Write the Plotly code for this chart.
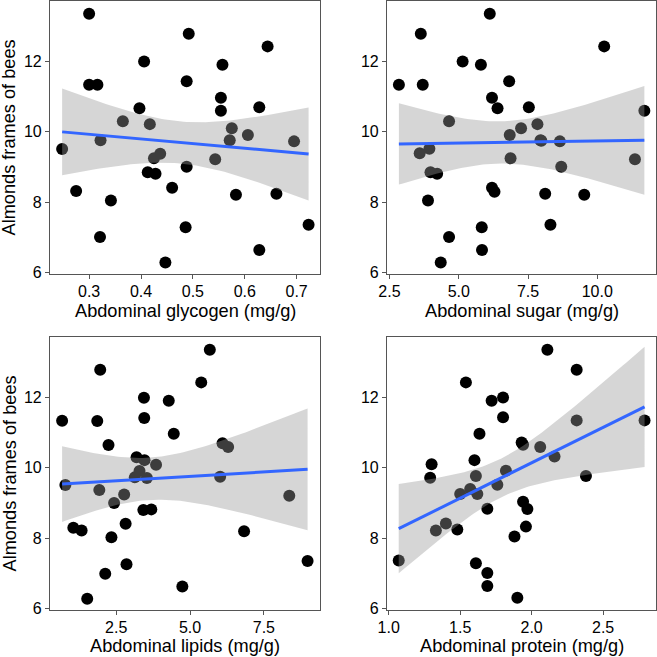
import numpy as np
import plotly.graph_objects as go

# ---- data ----
glycogen_x = [0.300, 0.492, 0.644, 0.406, 0.557, 0.300, 0.316, 0.488, 0.554, 0.554, 0.628, 0.397,
              0.365, 0.417, 0.575, 0.606, 0.571, 0.695, 0.322, 0.248, 0.425, 0.437, 0.543, 0.488,
              0.413, 0.428, 0.460, 0.275, 0.583, 0.661, 0.342, 0.723, 0.486, 0.321, 0.628, 0.447]
glycogen_y = [13.36, 12.79, 12.43, 12.00, 11.91, 11.34, 11.34, 11.44, 10.97, 10.60, 10.70, 10.67,
              10.30, 10.22, 10.10, 9.91, 9.76, 9.73, 9.76, 9.51, 9.25, 9.38, 9.22, 9.01,
              8.85, 8.81, 8.41, 8.32, 8.21, 8.24, 8.05, 7.36, 7.29, 7.01, 6.64, 6.29]

sugar_x = [6.12, 3.63, 10.25, 5.14, 5.80, 2.84, 3.70, 6.82, 6.20, 11.70, 7.53, 6.40,
           4.65, 7.84, 7.25, 6.84, 7.95, 8.65, 7.98, 3.94, 3.59, 6.87, 11.36, 8.70,
           3.98, 4.22, 6.20, 6.29, 8.12, 9.53, 3.89, 8.31, 5.83, 4.65, 5.84, 4.35]
sugar_y = [13.36, 12.79, 12.43, 12.00, 11.91, 11.34, 11.34, 11.44, 10.97, 10.60, 10.70, 10.67,
           10.30, 10.22, 10.10, 9.91, 9.76, 9.73, 9.75, 9.52, 9.39, 9.25, 9.22, 9.01,
           8.85, 8.81, 8.41, 8.30, 8.24, 8.21, 8.05, 7.36, 7.29, 7.01, 6.64, 6.29]

lipids_x = [5.67, 1.96, 5.38, 3.44, 4.28, 0.67, 1.86, 3.45, 4.45, 2.24, 6.10, 6.29,
            3.19, 3.46, 3.85, 3.29, 3.13, 3.54, 6.02, 0.78, 1.93, 2.77, 8.36, 2.43,
            3.42, 3.69, 1.05, 1.33, 2.82, 6.83, 2.34, 8.98, 2.85, 2.13, 4.74, 1.52]
lipids_y = [13.36, 12.79, 12.43, 11.99, 11.91, 11.34, 11.33, 11.42, 10.97, 10.65, 10.70, 10.59,
            10.30, 10.22, 10.09, 9.91, 9.73, 9.71, 9.75, 9.51, 9.37, 9.24, 9.21, 9.00,
            8.80, 8.82, 8.30, 8.22, 8.41, 8.20, 8.03, 7.35, 7.26, 6.99, 6.63, 6.28]

protein_x = [2.11, 2.315, 1.54, 1.72, 1.80, 1.80, 2.315, 2.79, 1.635, 1.93, 1.94, 2.06,
             1.60, 2.16, 1.30, 1.82, 1.29, 1.61, 2.38, 1.57, 1.76, 1.50, 1.62, 1.94,
             1.97, 1.69, 1.40, 1.33, 1.48, 1.96, 1.88, 1.07, 1.61, 1.69, 1.69, 1.90]
protein_y = [13.36, 12.79, 12.43, 11.91, 12.00, 11.44, 11.35, 11.35, 10.97, 10.72, 10.66, 10.59,
             10.22, 10.32, 10.10, 9.92, 9.72, 9.77, 9.77, 9.40, 9.52, 9.26, 9.26, 9.04,
             8.83, 8.84, 8.42, 8.22, 8.25, 8.33, 8.05, 7.37, 7.29, 7.01, 6.64, 6.31]

x_titles = ["Abdominal glycogen (mg/g)", "Abdominal sugar (mg/g)",
            "Abdominal lipids (mg/g)", "Abdominal protein (mg/g)"]
y_title = "Almonds frames of bees"
x_ticks = [[0.3, 0.4, 0.5, 0.6, 0.7], [2.5, 5.0, 7.5, 10.0], [2.5, 5.0, 7.5], [1.0, 1.5, 2.0, 2.5]]
x_ticktext = [["0.3", "0.4", "0.5", "0.6", "0.7"], ["2.5", "5.0", "7.5", "10.0"],
              ["2.5", "5.0", "7.5"], ["1.0", "1.5", "2.0", "2.5"]]
x_ranges = [[0.2246, 0.745], [2.41, 12.12], [0.26, 9.40], [0.988, 2.87]]
y_ticks = [6, 8, 10, 12]
y_range = [5.96, 13.72]

panels = [(glycogen_x, glycogen_y), (sugar_x, sugar_y), (lipids_x, lipids_y), (protein_x, protein_y)]

W = H = 657
# pixel boxes of each plot area: (left, right, top, bottom)
boxes = [(50, 320, 1, 274), (387, 656, 1, 274), (50, 320, 337, 610), (387, 656, 337, 610)]
title_offsets = [37, 37, 35.5, 35.5]

T975 = 2.0322  # t quantile, df = 34

fig = go.Figure()
font = "Liberation Sans, Arial, sans-serif"
FS_TICK = 16
FS_TITLE = 18.2
annotations = []

for i, ((xs, ys), box) in enumerate(zip(panels, boxes)):
    xs = np.array(xs, float)
    ys = np.array(ys, float)
    n = len(xs)
    b, a = np.polyfit(xs, ys, 1)
    resid = ys - (a + b * xs)
    s = np.sqrt(np.sum(resid ** 2) / (n - 2))
    xm = xs.mean()
    sxx = np.sum((xs - xm) ** 2)
    xg = np.linspace(xs.min(), xs.max(), 80)
    yg = a + b * xg
    se = s * np.sqrt(1.0 / n + (xg - xm) ** 2 / sxx)
    lo = yg - T975 * se
    hi = yg + T975 * se

    ax = "" if i == 0 else str(i + 1)
    xa, ya = "x" + ax, "y" + ax

    fig.add_trace(go.Scatter(x=xs, y=ys, mode="markers", xaxis=xa, yaxis=ya,
                             marker=dict(color="black", size=12, line=dict(width=0)),
                             showlegend=False, hoverinfo="skip"))
    fig.add_trace(go.Scatter(x=np.concatenate([xg, xg[::-1]]), y=np.concatenate([hi, lo[::-1]]),
                             mode="lines", fill="toself", fillcolor="rgba(153,153,153,0.4)",
                             line=dict(width=0), xaxis=xa, yaxis=ya, showlegend=False, hoverinfo="skip"))
    fig.add_trace(go.Scatter(x=xg, y=yg, mode="lines", line=dict(color="#3366FF", width=3),
                             xaxis=xa, yaxis=ya, showlegend=False, hoverinfo="skip"))

    l, r, t, btm = box
    xdom = [l / W, r / W]
    ydom = [1 - btm / H, 1 - t / H]
    axis_common = dict(showgrid=False, zeroline=False, showline=True, mirror=True, automargin=False,
                       linecolor="#555555", linewidth=1.2, ticks="outside", ticklen=4,
                       tickcolor="#555555", tickwidth=1.2,
                       tickfont=dict(family=font, size=FS_TICK, color="black"))
    fig.layout["xaxis" + ax] = dict(domain=xdom, range=x_ranges[i], tickvals=x_ticks[i],
                                    ticktext=x_ticktext[i], anchor=ya, ticklabelstandoff=-1,
                                    **axis_common)
    fig.layout["yaxis" + ax] = dict(domain=ydom, range=y_range, tickvals=y_ticks,
                                    anchor=xa, **axis_common)

    annotations.append(dict(text=x_titles[i], xref="paper", yref="paper",
                            x=(l + r) / 2 / W, y=1 - (btm + title_offsets[i]) / H,
                            xanchor="center", yanchor="middle",
                            showarrow=False, font=dict(family=font, size=FS_TITLE, color="black")))
    if i % 2 == 0:
        annotations.append(dict(text=y_title, xref="paper", yref="paper", textangle=-90,
                                x=9 / W, y=1 - (t + btm) / 2 / H, xanchor="center", yanchor="middle",
                                showarrow=False, font=dict(family=font, size=FS_TITLE, color="black")))

fig.update_layout(width=W, height=H, margin=dict(l=0, r=0, t=0, b=0, autoexpand=False),
                  paper_bgcolor="white", plot_bgcolor="white", annotations=annotations)

fig.write_html("out.html", config={"displayModeBar": False},
               post_script="document.body.style.margin='0';document.body.style.overflow='hidden';")
